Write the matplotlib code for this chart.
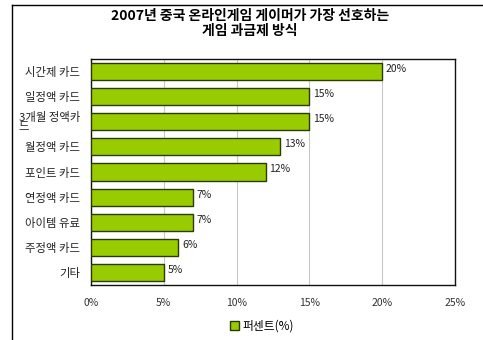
import numpy as np
import matplotlib.pyplot as plt
from matplotlib.patches import Patch

plt.rcParams['font.family'] = ['Noto Sans CJK KR', 'DejaVu Sans']

categories = ['시간제 카드', '일정액 카드', '3개월 정액카\n드', '월정액 카드', '포인트 카드',
              '연정액 카드', '아이템 유료', '주정액 카드', '기타']
values = [20, 15, 15, 13, 12, 7, 7, 6, 5]
xticks = [0, 5, 10, 15, 20, 25]
series_name = '퍼센트(%)'

fig = plt.figure(figsize=(4.83, 3.40), dpi=100)
ax = fig.add_axes([91/483, 1 - 285/340, (455 - 91)/483, (285 - 59)/340])

y = np.arange(len(categories))
ax.barh(y, values, height=0.68, color='#99CC00', edgecolor='#2b3a00', linewidth=1.0, zorder=3)
for yi, v in zip(y, values):
    ax.text(v + 0.25, yi - 0.1, f'{v}%', va='center', ha='left', fontsize=7.5, color='#222222')

ax.set_ylim(len(categories) - 0.5, -0.5)
ax.set_xlim(0, 25)
ax.set_xticks(xticks)
ax.set_xticklabels([f'{t}%' for t in xticks], fontsize=7.5, color='#333333')
ax.set_yticks(y)
ax.set_yticklabels(categories, fontsize=8.2, color='#222222', linespacing=0.9)
for lbl in ax.get_yticklabels():
    lbl.set_multialignment('left')
ax.tick_params(length=0, pad=8)
ax.tick_params(axis='x', pad=9)
ax.grid(axis='x', color='#c8c8c8', linewidth=0.8, zorder=0)
for s in ax.spines.values():
    s.set_color('#111111')
    s.set_linewidth(1.0)

fig.text(0.518, 1 - 16/340, '2007년 중국 온라인게임 게이머가 가장 선호하는', ha='center', va='center',
         fontsize=10, fontweight='semibold')
fig.text(0.518, 1 - 31/340, '게임 과금제 방식', ha='center', va='center',
         fontsize=10, fontweight='semibold')

fig.legend(handles=[Patch(facecolor='#99CC00', edgecolor='#2b3a00', label=series_name)],
           loc='center', bbox_to_anchor=(262/483, 1 - 326/340), frameon=False,
           fontsize=8.5, handlelength=0.7, handleheight=0.7, handletextpad=0.3)

# outer frame (left and top only)
fig.add_artist(plt.Line2D([12/483, 12/483], [0, 1 - 5/340], color='black', linewidth=1.0))
fig.add_artist(plt.Line2D([12/483, 1], [1 - 5/340, 1 - 5/340], color='black', linewidth=1.0))

fig.savefig('out.png', dpi=100)
